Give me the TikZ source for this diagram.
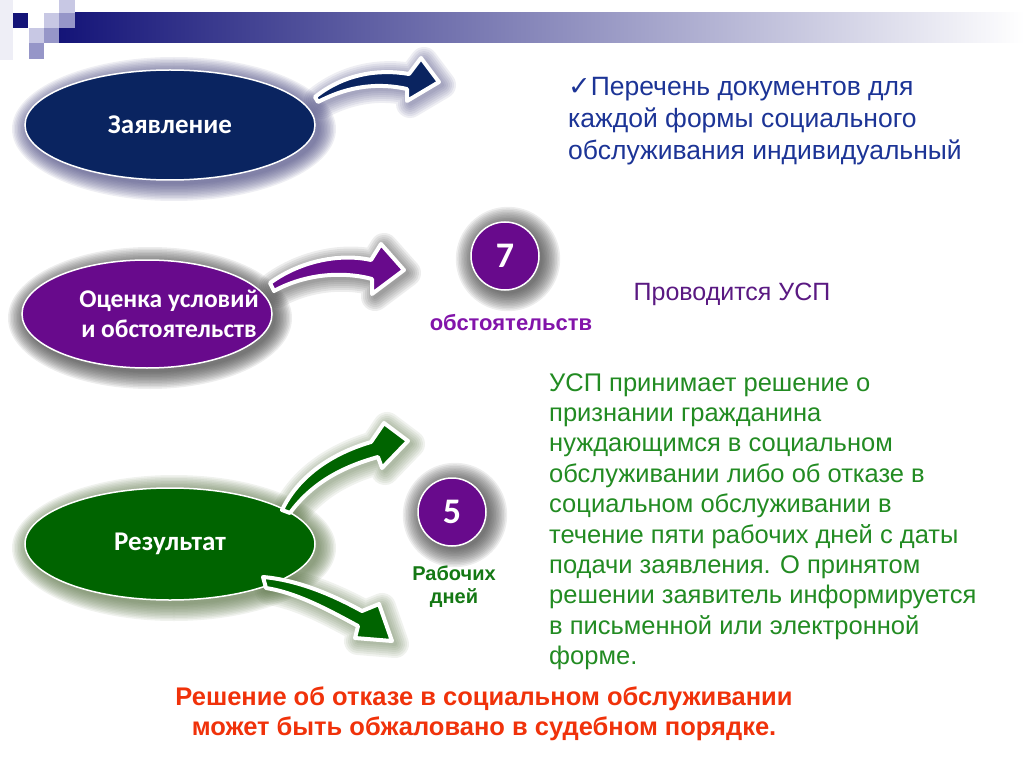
\documentclass[tikz,border=0pt]{standalone}
\usepackage{fontspec}
\setmainfont{Liberation Sans}
\newfontfamily\carlito{Carlito}
\newfontfamily\dejavu{DejaVu Sans}
\usetikzlibrary{shapes.geometric}

\definecolor{barnavy}{RGB}{20,20,120}
\definecolor{sqlight}{RGB}{200,200,228}
\definecolor{sqmid}{RGB}{150,150,200}
\definecolor{sqfaint}{RGB}{238,238,246}
\definecolor{navyfill}{RGB}{10,36,96}
\definecolor{violetfill}{RGB}{104,10,140}
\definecolor{greenfill}{RGB}{0,100,0}
\definecolor{navyhalo}{RGB}{70,70,125}
\definecolor{grayhalo}{RGB}{55,55,55}
\definecolor{greenhalo}{RGB}{90,115,70}
\definecolor{listblue}{RGB}{28,52,150}
\definecolor{greentext}{RGB}{34,139,34}
\definecolor{greenbold}{RGB}{20,120,20}
\definecolor{violettext}{RGB}{90,25,130}
\definecolor{violetbold}{RGB}{130,20,170}
\definecolor{appealred}{RGB}{240,50,10}

% arrow outlines (pixel units)
\newcommand{\arrowtop}{(315,97) .. controls (345,73) and (380,69) .. (409,74) -- (421,58) -- (439,82) -- (407,101) -- (407,89) .. controls (380,83) and (350,85) .. (318,102) -- cycle}
\newcommand{\arrowmid}{(270,283) .. controls (300,261) and (340,253) .. (371,260) -- (381,244) -- (404,270) -- (372,294) -- (372,279) .. controls (342,271) and (305,274) .. (274,291) -- cycle}
\newcommand{\arrowup}{(282,510) .. controls (298,477) and (330,454) .. (371,442) -- (384,423) -- (408,441) -- (382,468) -- (378,457) .. controls (342,467) and (312,483) .. (290,513) -- cycle}
\newcommand{\arrowdown}{(263,577) .. controls (298,580) and (333,595) .. (362,611) -- (379,604) -- (392,641) -- (355,638) -- (358,626) .. controls (330,611) and (298,593) .. (266,588) -- cycle}

\begin{document}
\begin{tikzpicture}[x=1pt, y=-1pt,
    oval/.style={ellipse, draw=white, line width=1.5pt, inner sep=0pt, text=white, align=center, font=\carlito\bfseries\fontsize{27}{30}\selectfont},
    numcircle/.style={circle, draw=white, line width=1.5pt, fill=violetfill, minimum size=68pt, inner sep=0pt, text=white, font=\carlito\bfseries\fontsize{36}{36}\selectfont},
    bigarrow/.style={draw=white, line width=4pt, line join=round},
    halo/.style={opacity=0.09}]
  \useasboundingbox (0,0) rectangle (1024,767);

  % Header
  \shade[left color=barnavy, right color=white] (59,13) rectangle (1024,43);
  \fill[sqfaint] (0,0) rectangle (13,60);
  \fill[barnavy] (13,13) rectangle (28,28);
  \fill[sqlight] (44,13) rectangle (59,28);
  \fill[sqlight] (59,0) rectangle (75,13);
  \fill[sqmid] (59,13) rectangle (75,28);
  \fill[sqlight] (29,28) rectangle (44,43);
  \fill[sqmid] (44,28) rectangle (59,43);
  \fill[sqmid] (29,43) rectangle (44,59);

  % Shadows
  \foreach \k in {1,...,12} {
    \fill[navyhalo, halo] (174,129) ellipse [x radius=144+1.5*\k, y radius=54+1.5*\k];
    \fill[grayhalo, halo] (150,318) ellipse [x radius=124+1.5*\k, y radius=53+1.5*\k];
    \fill[greenhalo, halo] (174,548) ellipse [x radius=144+1.5*\k, y radius=55+1.5*\k];
    \fill[grayhalo, halo] (508,259) circle [radius=33+1.6*\k];
    \fill[grayhalo, halo] (455,515) circle [radius=33+1.6*\k];
  }
  \foreach \w in {4,8,...,28} {
    \draw[navyhalo, halo, line width=\w pt, line join=round, shift={(3,3)}] \arrowtop;
    \draw[grayhalo, halo, line width=\w pt, line join=round, shift={(3,3)}] \arrowmid;
    \draw[greenhalo, halo, line width=\w pt, line join=round, shift={(3,3)}] \arrowup;
    \draw[greenhalo, halo, line width=\w pt, line join=round, shift={(3,3)}] \arrowdown;
  }

  % Nodes
  \node (apply) [oval, fill=navyfill, minimum width=290pt, minimum height=110pt] at (170,125) {Заявление};
  \node (assess) [oval, fill=violetfill, minimum width=250pt, minimum height=108pt] at (147,314) {};
  \node (assesstext) [text=white, align=center, font=\carlito\bfseries\fontsize{25.5}{30}\selectfont] at (169,314) {Оценка условий\\и обстоятельств};
  \node (result) [oval, fill=greenfill, minimum width=290pt, minimum height=112pt] at (170,544) {Результат};

  \node (seven) [numcircle] at (505,256) {7};
  \node (five) [numcircle] at (452,512) {5};

  % Arrows
  \filldraw[bigarrow, fill=navyfill] \arrowtop;
  \filldraw[bigarrow, fill=violetfill] \arrowmid;
  \filldraw[bigarrow, fill=greenfill] \arrowup;
  \filldraw[bigarrow, fill=greenfill] \arrowdown;

  % Texts
  \node (docs) [anchor=north west, inner sep=0pt, align=left, text=listblue, font=\fontsize{26.5}{32}\selectfont] at (568,77)
    {{\dejavu\fontsize{27}{27}\selectfont ✓}Перечень документов для\\каждой формы социального\\обслуживания индивидуальный};
  \node (circs) [anchor=base, text=violetbold, font=\bfseries\fontsize{22}{26}\selectfont] at (511,330) {обстоятельств};
  \node (usp) [anchor=base, text=violettext, font=\fontsize{25}{30}\selectfont] at (732,300) {Проводится УСП};
  \node (workdays) [anchor=north, inner sep=0pt, align=center, text=greenbold, font=\bfseries\fontsize{20}{23}\selectfont] at (454,566) {Рабочих\\дней};
  \node (decision) [anchor=north west, inner sep=0pt, align=left, text=greentext, font=\fontsize{25.5}{30.4}\selectfont] at (549,373)
    {УСП принимает решение о\\признании гражданина\\нуждающимся в социальном\\обслуживании либо об отказе в\\социальном обслуживании в\\течение пяти рабочих дней с даты\\подачи заявления. О принятом\\решении заявитель информируется\\в письменной или электронной\\форме.};
  \node (appeal) [anchor=north, inner sep=0pt, align=center, text=appealred, font=\bfseries\fontsize{25.5}{30}\selectfont] at (484,687)
    {Решение об отказе в социальном обслуживании\\может быть обжаловано в судебном порядке.};
\end{tikzpicture}
\end{document}
